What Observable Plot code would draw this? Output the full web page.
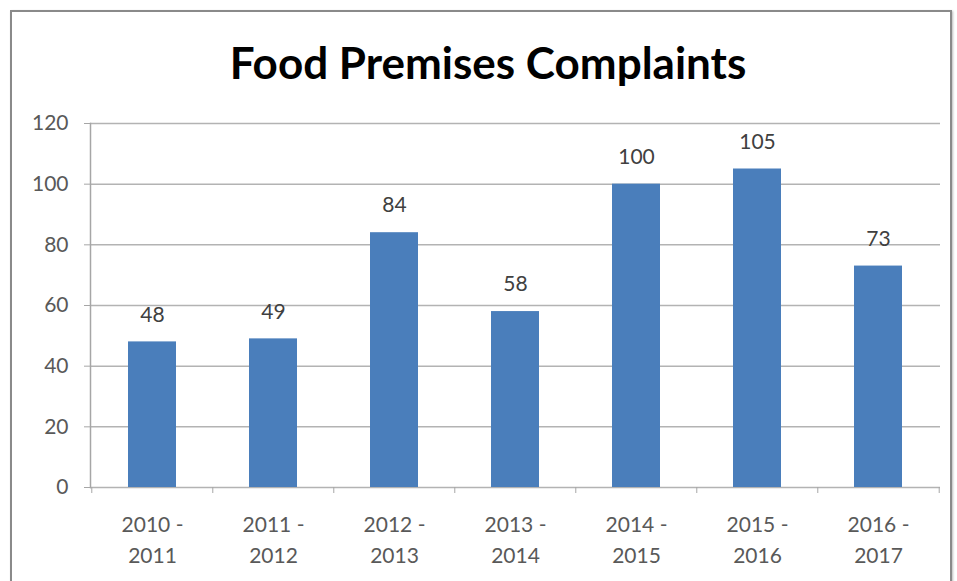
<!DOCTYPE html>
<html>
<head>
<meta charset="utf-8">
<script src="https://cdn.jsdelivr.net/npm/d3@7"></script>
<script src="https://cdn.jsdelivr.net/npm/@observablehq/plot@0.6"></script>
<style>
  html, body { margin: 0; padding: 0; background: #fff; }
  #wrap { position: relative; width: 957px; height: 581px; overflow: hidden; background: #fff; }
  #border { position: absolute; left: 10px; top: 10px; width: 938px; height: 600px; border: 2px solid #8a8a8a; box-shadow: 1px 1px 2px #bbb; }
  #title { position: absolute; left: 0; top: 34px; width: 976px; text-align: center; font-family: Lato, "Open Sans", sans-serif; font-weight: bold; font-size: 44px; color: #000; line-height: 56px; }
  #chart { position: absolute; left: 0; top: 105px; }
</style>
</head>
<body>
<div id="wrap">
  <div id="border"></div>
  <div id="title">Food Premises Complaints</div>
  <div id="chart"></div>
</div>
<script>
const categories = ["2010 -\n2011", "2011 -\n2012", "2012 -\n2013", "2013 -\n2014", "2014 -\n2015", "2015 -\n2016", "2016 -\n2017"];
const complaints = [48, 49, 84, 58, 100, 105, 73];
const yTicks = [0, 20, 40, 60, 80, 100, 120];

const data = categories.map((c, i) => ({category: c, value: complaints[i]}));

const width = 957, height = 476, mL = 90, mR = 17;
const step = (width - mL - mR) / categories.length;

const plot = Plot.plot({
  width, height,
  marginLeft: mL, marginRight: mR, marginTop: 18, marginBottom: 94,
  style: {fontFamily: "Lato, 'Open Sans', sans-serif", fontSize: "21px", color: "#595959", background: "transparent"},
  x: {type: "band", domain: categories, paddingInner: 0.6, paddingOuter: 0.3},
  y: {domain: [0, 120]},
  marks: [
    Plot.ruleY(yTicks, {stroke: "#b3b3b3", strokeWidth: 1.5}),
    Plot.frame({anchor: "left", stroke: "#a6a6a6", strokeWidth: 1.5}),
    Plot.axisY({ticks: yTicks, tickSize: 6, tickPadding: 16, stroke: "#a6a6a6", fill: "#595959", fontSize: 21, label: null}),
    Plot.axisX({ticks: categories, tickSize: 6, dx: -step / 2, text: null, stroke: "#a6a6a6", label: null}),
    Plot.axisX({ticks: [categories[categories.length - 1]], tickSize: 6, dx: step / 2, text: null, stroke: "#a6a6a6", label: null}),
    Plot.axisX({ticks: categories, tickSize: 0, tickPadding: 23, lineHeight: 1.45, fill: "#595959", fontSize: 21, label: null}),
    Plot.barY(data, {x: "category", y: "value", fill: "#4a7ebb"}),
    Plot.text(data, {x: "category", y: "value", text: d => String(d.value), dy: -27, fontSize: 21, fill: "#404040"})
  ]
});
document.getElementById("chart").appendChild(plot);
</script>
</body>
</html>
